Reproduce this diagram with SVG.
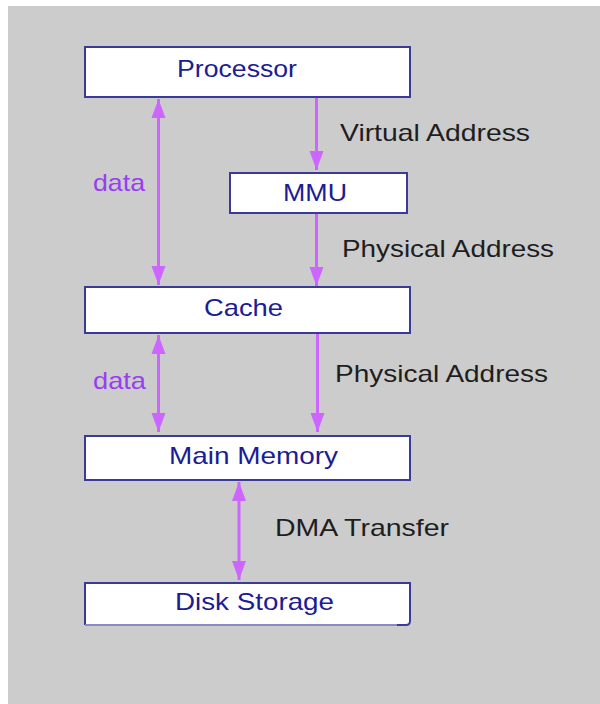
<svg xmlns="http://www.w3.org/2000/svg" width="600" height="704" viewBox="0 0 600 704">
<style>
.box{fill:#ffffff;stroke:#3a3a9a;stroke-width:2}
.nt{font-family:"Liberation Sans",Arial,sans-serif;font-size:24px;fill:#1c1c94}
.lb{font-family:"Liberation Sans",Arial,sans-serif;font-size:24px;fill:#1e1e1e}
.dt{font-family:"Liberation Sans",Arial,sans-serif;font-size:24px;fill:#9a3cf5}
.ar{stroke:#cc66ff;stroke-width:3;fill:none}
</style>
<defs>
<marker id="ah" markerUnits="userSpaceOnUse" markerWidth="22" markerHeight="18" viewBox="-20 -9 22 18" refX="0" refY="0" orient="auto-start-reverse">
<path d="M0,0 L-19,-7 L-19,7 Z" fill="#cc66ff"/>
</marker>
</defs>
<rect x="0" y="0" width="600" height="704" fill="#ffffff"/>
<rect x="8" y="6" width="592" height="698" fill="#cccccc"/>
<g id="connectors">
<line class="ar" x1="158.5" y1="99" x2="158.5" y2="285" marker-start="url(#ah)" marker-end="url(#ah)"/>
<line class="ar" x1="316.5" y1="97" x2="316.5" y2="170" marker-end="url(#ah)"/>
<line class="ar" x1="316.5" y1="213" x2="316.5" y2="286" marker-end="url(#ah)"/>
<line class="ar" x1="158.5" y1="335" x2="158.5" y2="432" marker-start="url(#ah)" marker-end="url(#ah)"/>
<line class="ar" x1="317.5" y1="333" x2="317.5" y2="432" marker-end="url(#ah)"/>
<line class="ar" x1="239" y1="482" x2="239" y2="580" marker-start="url(#ah)" marker-end="url(#ah)"/>
</g>
<g id="processor">
<rect class="box" x="85" y="47" width="325" height="50"/>
<text class="nt" x="177" y="77" textLength="120" lengthAdjust="spacingAndGlyphs">Processor</text>
</g>
<g id="mmu">
<rect class="box" x="230" y="173" width="177" height="40"/>
<text class="nt" x="283" y="201" textLength="64" lengthAdjust="spacingAndGlyphs">MMU</text>
</g>
<g id="cache">
<rect class="box" x="85" y="287" width="325" height="46"/>
<text class="nt" x="204" y="316" textLength="79" lengthAdjust="spacingAndGlyphs">Cache</text>
</g>
<g id="main-memory">
<rect class="box" x="85" y="436" width="325" height="44"/>
<text class="nt" x="169" y="464" textLength="169" lengthAdjust="spacingAndGlyphs">Main Memory</text>
</g>
<g id="disk-storage">
<path d="M85,625 L85,583 L410,583 L410,619" fill="#ffffff" stroke="#3a3a9a" stroke-width="2"/>
<rect x="86" y="584" width="323" height="40" fill="#ffffff"/>
<line x1="85" y1="625" x2="397" y2="625" stroke="#8a8ac4" stroke-width="2"/>
<path d="M397,625 L406,625 Q410,625 410,621 L410,618" fill="none" stroke="#3a3a9a" stroke-width="2"/>
<text class="nt" x="175" y="610" textLength="159" lengthAdjust="spacingAndGlyphs">Disk Storage</text>
</g>
<g id="labels">
<text class="lb" x="340" y="141" textLength="190" lengthAdjust="spacingAndGlyphs">Virtual Address</text>
<text class="lb" x="342" y="257" textLength="212" lengthAdjust="spacingAndGlyphs">Physical Address</text>
<text class="lb" x="335" y="382" textLength="213" lengthAdjust="spacingAndGlyphs">Physical Address</text>
<text class="lb" x="275" y="536" textLength="174" lengthAdjust="spacingAndGlyphs">DMA Transfer</text>
<text class="dt" x="93" y="191" textLength="52" lengthAdjust="spacingAndGlyphs">data</text>
<text class="dt" x="93" y="389" textLength="53" lengthAdjust="spacingAndGlyphs">data</text>
</g>
</svg>
